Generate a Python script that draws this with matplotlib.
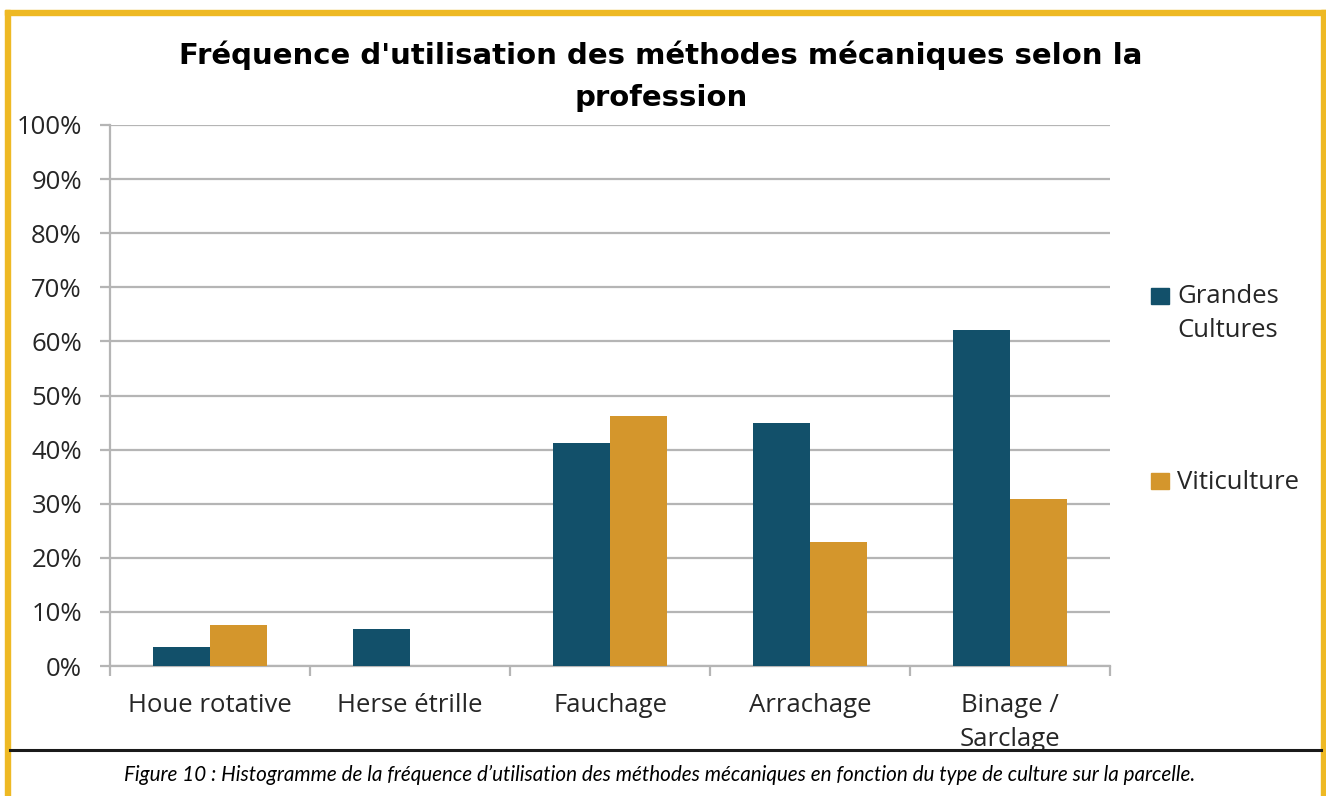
import matplotlib
matplotlib.use("Agg")
import matplotlib.pyplot as plt
from matplotlib.patches import Rectangle
from matplotlib.lines import Line2D
import numpy as np

categories = ["Houe rotative", "Herse étrille", "Fauchage", "Arrachage", "Binage /\nSarclage"]
series_names = ["Grandes\nCultures", "Viticulture"]
grandes_cultures = [3.6, 6.8, 41.3, 45.0, 62.1]
viticulture = [7.6, 0.0, 46.2, 23.0, 30.8]
yticks = [0, 10, 20, 30, 40, 50, 60, 70, 80, 90, 100]
ytick_labels = [f"{v}%" for v in yticks]
title = "Fréquence d'utilisation des méthodes mécaniques selon la\nprofession"
caption = ("Figure 10 : Histogramme de la fréquence d\u2019utilisation des méthodes "
           "mécaniques en fonction du type de culture sur la parcelle.")

BLUE = "#12506A"
ORANGE = "#D4962C"
YELLOW = "#EEB924"
GRID = "#B5B5B5"
TEXT = "#262626"

W, H = 1326, 796
fig = plt.figure(figsize=(W / 100, H / 100), dpi=100)
fig.patch.set_facecolor("white")

def fx(px):
    return px / W

def fy(py):
    return 1 - py / H

# axes placement (pixel coords from reference)
left, right, top, bottom = 110, 1110, 125, 666
ax = fig.add_axes([fx(left), fy(bottom), fx(right - left), (bottom - top) / H])

x = np.arange(len(categories))
bw = 0.285
ax.bar(x - bw / 2, grandes_cultures, width=bw, color=BLUE, zorder=3)
ax.bar(x + bw / 2, viticulture, width=bw, color=ORANGE, zorder=3)

ax.set_xlim(-0.5, len(categories) - 0.5)
ax.set_ylim(0, 100)
ax.set_yticks(yticks)
ax.set_yticklabels(ytick_labels)
ax.yaxis.grid(True, color=GRID, linewidth=1.6, zorder=0)
ax.set_axisbelow(True)

ax.set_xticks(x)
ax.set_xticklabels(categories, linespacing=1.47)
ax.set_xticks(np.arange(-0.5, len(categories)), minor=True)
ax.tick_params(axis="x", which="major", length=0, pad=19.5, labelsize=18.5, labelcolor=TEXT)
ax.tick_params(axis="x", which="minor", length=7, width=1.6, color=GRID, direction="out")
ax.tick_params(axis="y", length=7.2, width=1.6, color=GRID, pad=13, labelsize=18.5, labelcolor=TEXT)
for lab in ax.get_xticklabels() + ax.get_yticklabels():
    lab.set_family("Open Sans")

for s in ["top", "right"]:
    ax.spines[s].set_visible(False)
for s in ["left", "bottom"]:
    ax.spines[s].set_color(GRID)
    ax.spines[s].set_linewidth(1.6)

# title
fig.text(fx(661), fy(40), title, ha="center", va="top", fontsize=21,
         fontweight="bold", family="DejaVu Sans", color="black", linespacing=1.68)

# legend (manual, matching the reference layout)
leg_colors = [BLUE, ORANGE]
leg_tops = [288, 473]
for c, t in zip(leg_colors, leg_tops):
    fig.patches.append(Rectangle((fx(1151), fy(t + 16)), fx(18), 16 / H,
                                 transform=fig.transFigure, color=c, figure=fig))
lines_gc = series_names[0].split("\n")
fig.text(fx(1177), fy(303), lines_gc[0], ha="left", va="baseline",
         fontsize=18.5, family="Open Sans", color=TEXT)
fig.text(fx(1177), fy(337), lines_gc[1], ha="left", va="baseline",
         fontsize=18.5, family="Open Sans", color=TEXT)
fig.text(fx(1177), fy(489), series_names[1], ha="left", va="baseline",
         fontsize=18.5, family="Open Sans", color=TEXT)

# yellow frame
for (x0, y0, w, h) in [(5, 10, 5, 786), (5, 10, 1321, 5), (1321, 10, 5, 786)]:
    fig.patches.append(Rectangle((fx(x0), fy(y0 + h)), fx(w), h / H,
                                 transform=fig.transFigure, color=YELLOW, figure=fig))

# black separator line
fig.lines.append(Line2D([fx(10), fx(1321)], [fy(750), fy(750)], transform=fig.transFigure,
                        color="#1a1a1a", linewidth=2.2, figure=fig))

# caption
fig.text(fx(660), fy(775), caption, ha="center", va="center", fontsize=14.9,
         style="italic", family="Lato", color="black")

fig.savefig("out.png", dpi=100)
